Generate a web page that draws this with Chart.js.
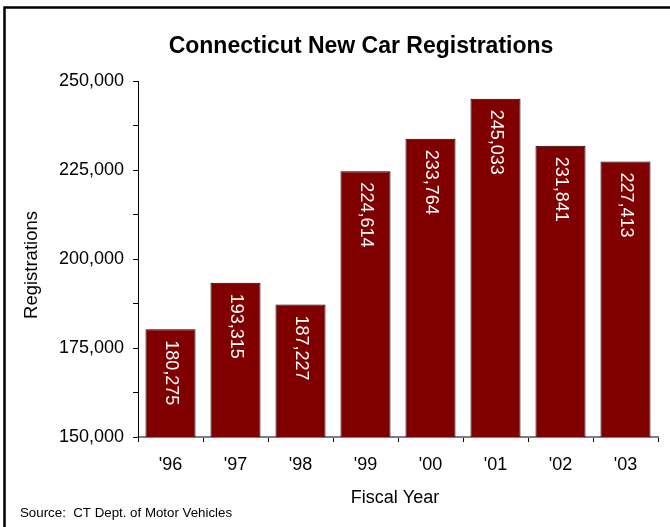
<!DOCTYPE html>
<html>
<head>
<meta charset="utf-8">
<script src="https://cdn.jsdelivr.net/npm/chart.js@4/dist/chart.umd.min.js"></script>
<style>
  html, body { margin: 0; padding: 0; background: #fff; }
  #wrap { width: 670px; height: 527px; position: relative; }
</style>
</head>
<body>
<div id="wrap"><canvas id="c" width="670" height="527"></canvas></div>
<script>
// Fiscal years and new car registrations
const years = ["'96", "'97", "'98", "'99", "'00", "'01", "'02", "'03"];
const registrations = [180275, 193315, 187227, 224614, 233764, 245033, 231841, 227413];
const yTickLabels = [150000, 175000, 200000, 225000, 250000];

const FONT = '"Liberation Sans", Arial, Helvetica, sans-serif';
const fmt = v => v.toLocaleString('en-US');

// Frame, title, axis titles, source note and in-bar value labels
const decorations = {
  id: 'decorations',
  afterDraw(chart) {
    const ctx = chart.ctx;
    ctx.save();

    // outer frame (left and top edges)
    ctx.strokeStyle = '#000';
    ctx.lineWidth = 2.5;
    ctx.beginPath();
    ctx.moveTo(4.5, 527);
    ctx.lineTo(4.5, 7.5);
    ctx.lineTo(670, 7.5);
    ctx.stroke();

    ctx.fillStyle = '#000';
    ctx.textAlign = 'center';
    ctx.textBaseline = 'middle';

    ctx.font = 'bold 23px ' + FONT;
    ctx.fillText('Connecticut New Car Registrations', 361, 47);

    ctx.font = '18px ' + FONT;
    ctx.fillText('Fiscal Year', 395, 498);

    ctx.save();
    ctx.translate(32, 265);
    ctx.rotate(-Math.PI / 2);
    ctx.font = '18.5px ' + FONT;
    ctx.fillText('Registrations', 0, 0);
    ctx.restore();

    ctx.textAlign = 'left';
    ctx.font = '13.3px ' + FONT;
    ctx.fillText('Source:  CT Dept. of Motor Vehicles', 20, 513);

    // value labels inside bars, reading top to bottom
    const meta = chart.getDatasetMeta(0);
    ctx.fillStyle = '#fff';
    ctx.font = '18px ' + FONT;
    meta.data.forEach((bar, i) => {
      ctx.save();
      ctx.translate(bar.x, bar.y + 11);
      ctx.rotate(Math.PI / 2);
      ctx.textAlign = 'left';
      ctx.textBaseline = 'middle';
      ctx.fillText(fmt(registrations[i]), 0, 0);
      ctx.restore();
    });

    ctx.restore();
  }
};

new Chart(document.getElementById('c'), {
  type: 'bar',
  data: {
    labels: years,
    datasets: [{
      data: registrations,
      backgroundColor: '#800000',
      borderColor: '#000',
      borderWidth: 1,
      borderSkipped: 'bottom',
      barPercentage: 0.77,
      categoryPercentage: 1
    }]
  },
  options: {
    responsive: false,
    animation: false,
    devicePixelRatio: 1,
    layout: { padding: { left: 0, right: 12, top: 81, bottom: 0 } },
    plugins: {
      legend: { display: false },
      title: { display: false },
      tooltip: { enabled: false }
    },
    scales: {
      x: {
        afterFit: s => { s.height = 90; },
        grid: {
          offset: true,
          drawOnChartArea: false,
          drawTicks: true,
          tickLength: 5,
          color: '#000'
        },
        border: { color: '#808080', width: 2 },
        ticks: {
          color: '#000',
          padding: 12,
          font: { family: FONT, size: 18 },
          maxRotation: 0
        }
      },
      y: {
        min: yTickLabels[0],
        max: yTickLabels[yTickLabels.length - 1],
        afterFit: s => { s.width = 138; },
        grid: {
          drawOnChartArea: false,
          drawTicks: true,
          tickLength: 5,
          color: '#000'
        },
        border: { color: '#000', width: 1 },
        ticks: {
          stepSize: 12500,
          color: '#000',
          padding: 9,
          font: { family: FONT, size: 18 },
          callback: v => (yTickLabels.includes(v) ? fmt(v) : '')
        }
      }
    }
  },
  plugins: [decorations]
});
</script>
</body>
</html>
